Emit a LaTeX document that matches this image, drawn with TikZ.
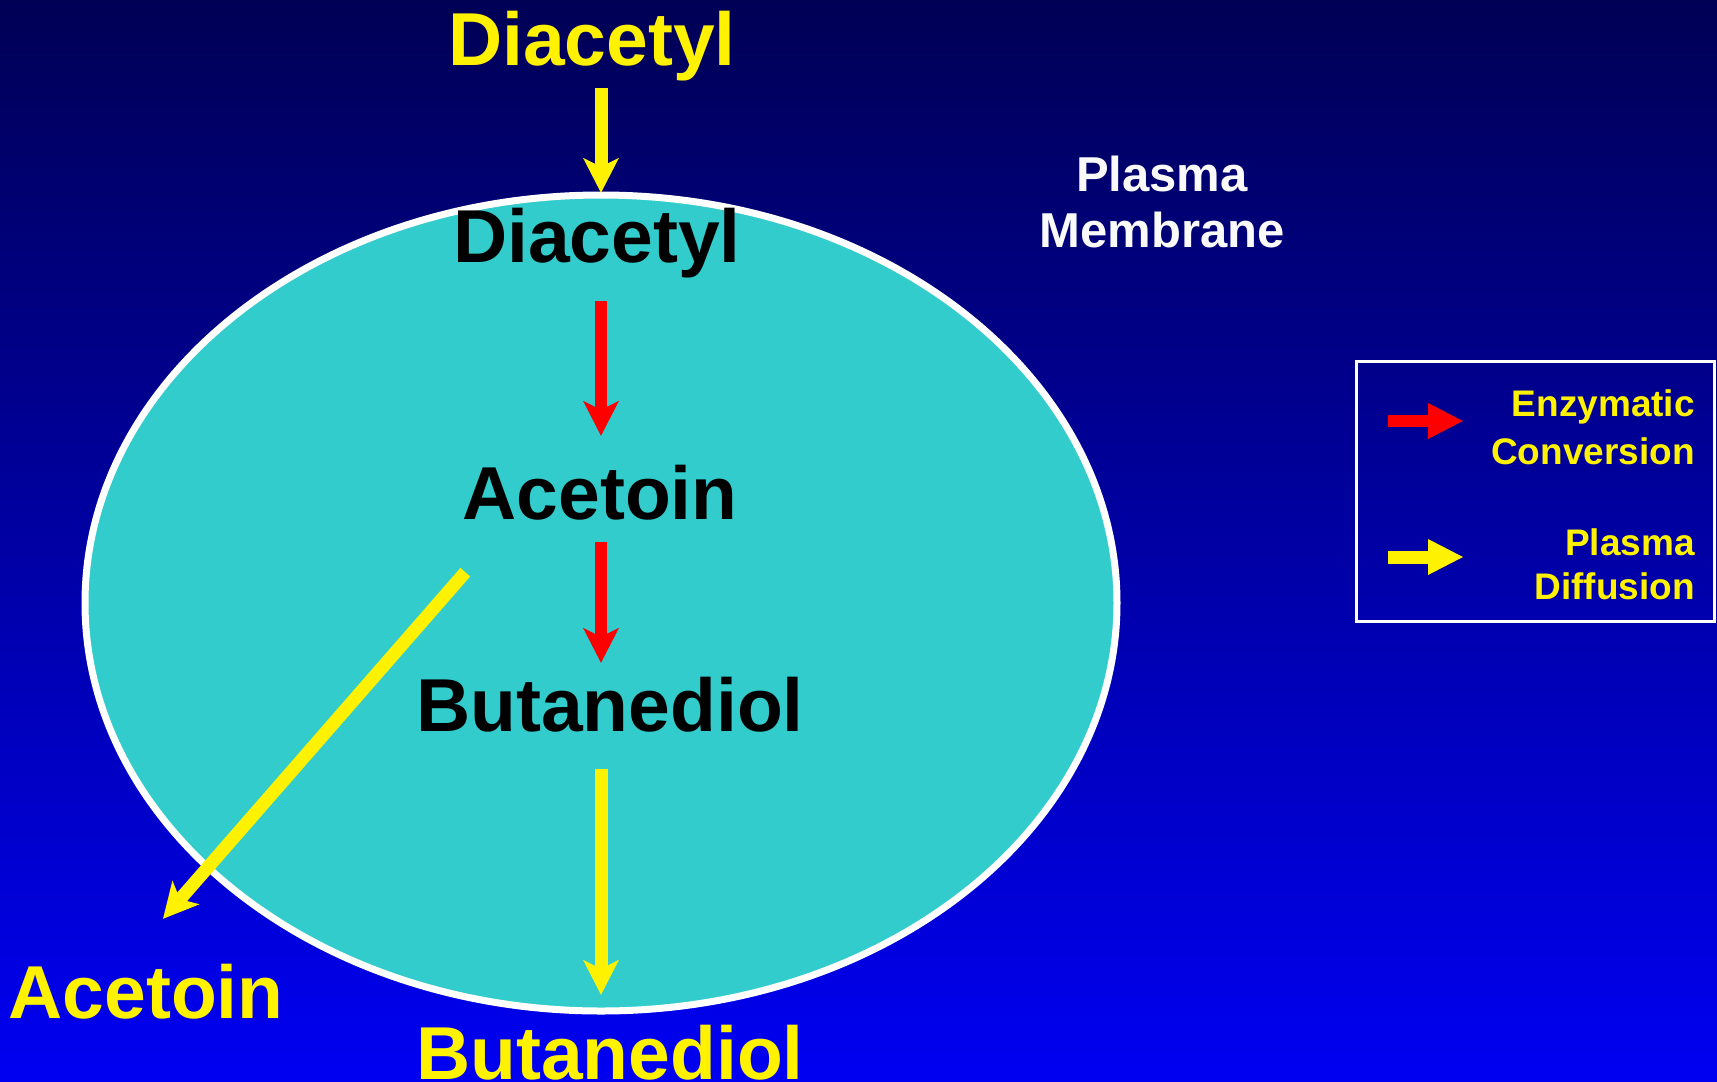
\documentclass[tikz,border=0pt]{standalone}
\usepackage{fontspec}
\setmainfont{Liberation Sans}
\usetikzlibrary{arrows.meta}
\definecolor{cellfill}{RGB}{51,204,204}
\definecolor{bgtop}{RGB}{0,0,85}
\definecolor{bgbot}{RGB}{0,0,242}
\begin{document}
\begin{tikzpicture}[x=1pt,y=-1pt,
  lbl/.style={font=\fontsize{75}{80}\selectfont\bfseries,inner sep=0pt,text height=54pt,text depth=0pt,anchor=base},
  diff/.style={yellow,line width=13pt,-{Stealth[length=35pt,width=36pt,inset=9pt,line width=0pt]}},
  enz/.style={red,line width=12pt,-{Stealth[length=35pt,width=36pt,inset=9pt,line width=0pt]}},
  keytip/.style={-{Triangle[length=35pt,width=36pt,line width=0pt]}},
  keytext/.style={font=\fontsize{37}{48}\selectfont\bfseries,text=yellow,align=right,inner sep=0pt,anchor=north east}]
\useasboundingbox (0,0) rectangle (1717,1082);
\shade[top color=bgtop,bottom color=bgbot] (0,0) rectangle (1717,1082);
% the cell
\draw[white,line width=7pt,fill=cellfill] (601,603) ellipse [x radius=516,y radius=408];
\coordinate (axis) at (601,0);
\node[lbl,text=yellow] (dout) at (592,65) {Diacetyl};
\node[lbl] (din) at (597,262) {Diacetyl};
\node[lbl] (acin) at (600,519) {Acetoin};
\node[lbl] (buin) at (610,731) {Butanediol};
\node[lbl,text=yellow] (acout) at (146,1018) {Acetoin};
\node[lbl,text=yellow] (buout) at (610,1079) {Butanediol};
\node[font=\fontsize{49}{56}\selectfont\bfseries,text=white!96!gray,align=center,inner sep=0pt,anchor=north] (membrane) at (1162,156) {Plasma\\Membrane};
\draw[diff,shorten <=23pt,shorten >=15pt] (dout.south -| axis) -- (din.north -| axis);
\draw[enz,shorten <=39pt,shorten >=29pt] (din.south -| axis) -- (acin.north -| axis);
\draw[enz,shorten <=23pt,shorten >=14pt] (acin.south -| axis) -- (buin.north -| axis);
\draw[diff,shorten <=38pt,shorten >=30pt] (buin.south -| axis) -- (buout.north -| axis);
\draw[diff] ([xshift=3pt,yshift=-53pt]acin.south west) -- ([xshift=17pt,yshift=45pt]acout.north);
% legend
\draw[white,line width=3pt] (1356,361) rectangle (1714,621);
\node[keytext] (keyenz) at (1695,389) {Enzymatic\\Conversion};
\node[keytext,font=\fontsize{37}{44}\selectfont\bfseries] (keydiff) at (1695,528) {Plasma\\Diffusion};
\draw[enz,keytip] (1388,421) -- (1463,421);
\draw[diff,keytip] (1388,557) -- (1463,557);
\end{tikzpicture}
\end{document}
